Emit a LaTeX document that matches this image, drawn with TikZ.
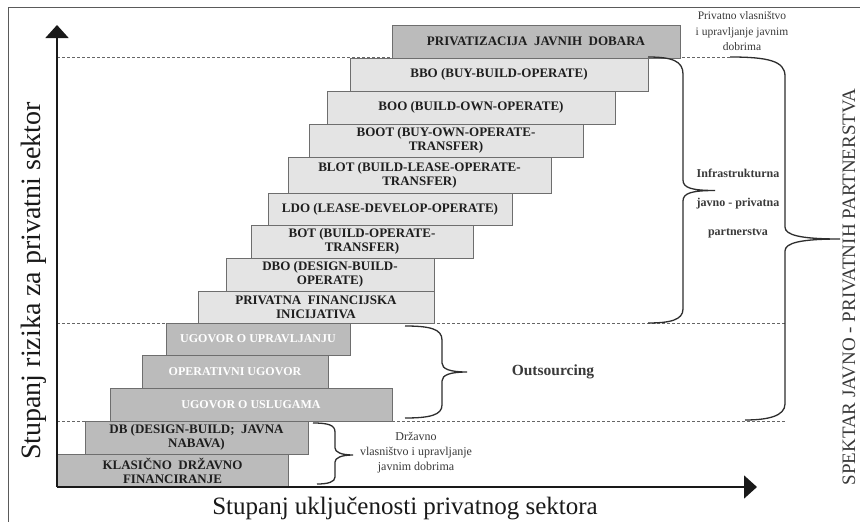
\documentclass[tikz,border=0pt]{standalone}
\usepackage{fontspec}
\setmainfont{Liberation Serif}
\usetikzlibrary{arrows.meta}
\definecolor{lightbox}{HTML}{E4E4E4}
\definecolor{darkbox}{HTML}{BBBBBB}
\definecolor{boxline}{HTML}{6E6E6E}
\definecolor{boxtext}{HTML}{1E1E1E}
\definecolor{notetext}{HTML}{3A3A3A}
\definecolor{bracecol}{HTML}{2E2E2E}
\definecolor{framecol}{HTML}{5A5A5A}
\tikzset{
  stepbox/.style={draw=boxline, line width=0.9pt, fill=lightbox, anchor=north west,
    inner sep=0pt, outer sep=0pt, align=center, text=boxtext,
    font=\bfseries\fontsize{13}{14}\selectfont},
  graybox/.style={stepbox, fill=darkbox},
  whitebox/.style={graybox, text=white, font=\bfseries\fontsize{12}{13}\selectfont},
  dashline/.style={draw=black!60, line width=0.7pt, dash pattern=on 3pt off 2pt},
  bracel/.style={draw=bracecol, line width=1.3pt},
  axisline/.style={line width=1.6pt, draw=black!90, -{Triangle[length=13pt,width=23pt]}},
  frameline/.style={draw=framecol, line width=0.9pt},
  note/.style={align=center, text=notetext}
}
\begin{document}
\begin{tikzpicture}[x=1pt,y=-1pt]
\useasboundingbox (0,0) rectangle (860,522);
\fill[white] (0,0) rectangle (860,522);

% frame
\coordinate (fb) at (8,522);
\coordinate (fc) at (8,7);
\coordinate (fr) at (860,7);
\draw[frameline] (fb) -- (fc) -- (fr);

% dashed levels
\coordinate (d1a) at (57,57);  \coordinate (d1b) at (730,57);
\coordinate (d2a) at (57,323); \coordinate (d2b) at (785,323);
\coordinate (d3a) at (57,421); \coordinate (d3b) at (785,421);
\draw[dashline] (d1a) -- (d1b);
\draw[dashline] (d2a) -- (d2b);
\draw[dashline] (d3a) -- (d3b);

% steps
\node[graybox, minimum width=288pt, minimum height=33pt] (priv) at (392,25) {PRIVATIZACIJA\ \ JAVNIH\ \ DOBARA};
\node[stepbox, minimum width=298pt, minimum height=33pt] (bbo) at (350,58) {BBO (BUY-BUILD-OPERATE)};
\node[stepbox, minimum width=288pt, minimum height=33pt] (boo) at (327,91) {BOO (BUILD-OWN-OPERATE)};
\node[stepbox, minimum width=274pt, minimum height=33pt] (boot) at (309,124) {BOOT (BUY-OWN-OPERATE-\\TRANSFER)};
\node[stepbox, minimum width=263pt, minimum height=36pt] (blot) at (288,157) {BLOT (BUILD-LEASE-OPERATE-\\TRANSFER)};
\node[stepbox, minimum width=244pt, minimum height=32pt] (ldo) at (268,193) {LDO (LEASE-DEVELOP-OPERATE)};
\node[stepbox, minimum width=222pt, minimum height=33pt] (bot) at (251,225) {BOT (BUILD-OPERATE-\\TRANSFER)};
\node[stepbox, minimum width=208pt, minimum height=33pt] (dbo) at (226,258) {DBO (DESIGN-BUILD-\\OPERATE)};
\node[stepbox, minimum width=236pt, minimum height=32pt] (pfi) at (198,291) {PRIVATNA\ \ FINANCIJSKA\\INICIJATIVA};
\node[whitebox, minimum width=184pt, minimum height=32pt] (uu) at (166,323) {UGOVOR O UPRAVLJANJU};
\node[whitebox, minimum width=186pt, minimum height=33pt] (ou) at (142,355) {OPERATIVNI UGOVOR};
\node[whitebox, minimum width=282pt, minimum height=33pt] (us) at (110,388) {UGOVOR O USLUGAMA};
\node[graybox, minimum width=223pt, minimum height=33pt] (db) at (85,421) {DB (DESIGN-BUILD;\ \ JAVNA\\NABAVA)};
\node[graybox, minimum width=231pt, minimum height=33pt] (kdf) at (57,454) {KLASIČNO\ \ DRŽAVNO\\FINANCIRANJE};

% axes
\coordinate (O) at (57,487);
\coordinate (ytop) at (57,25);
\coordinate (xend) at (757,487);
\draw[axisline] (O) -- (ytop);
\draw[axisline] (O) -- (xend);

% braces
\draw[bracel] (648,57) .. controls (672,57) and (683,61) .. (683,74) -- (683,180)
  .. controls (683,188) and (692,190.5) .. (715,190.5)
  .. controls (692,190.5) and (683,193) .. (683,201) -- (683,309)
  .. controls (683,320) and (670,323) .. (648,323);
\draw[bracel] (730,57) .. controls (768,57) and (785,61) .. (785,76) -- (785,227)
  .. controls (785,235) and (800,239) .. (840,239)
  .. controls (800,239) and (785,243) .. (785,251) -- (785,404)
  .. controls (785,416) and (768,420) .. (745,420);
\draw[bracel] (405,326) .. controls (430,326) and (442,329) .. (442,340) -- (442,363)
  .. controls (442,369) and (450,372) .. (467,372)
  .. controls (450,372) and (442,375) .. (442,381) -- (442,405)
  .. controls (442,415) and (430,418) .. (405,418);
\draw[bracel] (313,423) .. controls (328,423) and (335,425) .. (335,432) -- (335,448)
  .. controls (335,452) and (341,455) .. (353,455)
  .. controls (341,455) and (335,458) .. (335,462) -- (335,477)
  .. controls (335,482) and (328,484) .. (317,484);

% annotations
\node[note, font=\fontsize{11.5}{15.5}\selectfont] (pvl) at (742,31.5) {Privatno vlasništvo\\i upravljanje javnim\\dobrima};
\node[note, font=\bfseries\fontsize{12}{29}\selectfont] (ijp) at (738,204) {Infrastrukturna\\javno - privatna\\partnerstva};
\node[note, font=\bfseries\fontsize{15.5}{18}\selectfont] (outs) at (553,372) {Outsourcing};
\node[note, font=\fontsize{12}{15}\selectfont] (dvl) at (416,453) {Državno\\vlasništvo i upravljanje\\javnim dobrima};

% axis labels
\node[anchor=base, rotate=90, font=\fontsize{28}{30}\selectfont, text=black!90] (ylab) at (40,281) {Stupanj rizika za privatni sektor};
\node[anchor=base, font=\fontsize{25}{28}\selectfont, text=black!90] (xlab) at (405,514) {Stupanj uključenosti privatnog sektora};
\node[anchor=base, rotate=90, font=\fontsize{19}{21}\selectfont, text=notetext] (spek) at (855,287) {SPEKTAR JAVNO - PRIVATNIH PARTNERSTVA};
\end{tikzpicture}
\end{document}
